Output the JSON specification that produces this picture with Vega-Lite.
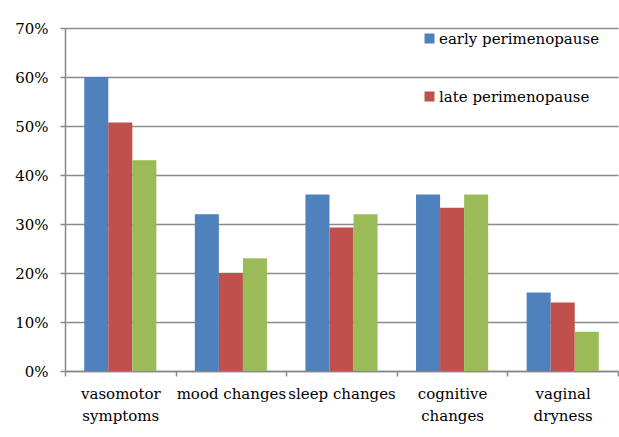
{
  "$schema": "https://vega.github.io/schema/vega-lite/v6.json",
  "autosize": {"type": "none"},
  "width": 553,
  "height": 343,
  "padding": {"left": 65, "top": 28, "right": 1, "bottom": 66},
  "background": "white",
  "data": {
    "values": [
      {"symptom": "vasomotor symptoms", "stage": "early perimenopause", "value": 0.60},
      {"symptom": "vasomotor symptoms", "stage": "late perimenopause", "value": 0.507},
      {"symptom": "vasomotor symptoms", "stage": "postmenopause", "value": 0.43},
      {"symptom": "mood changes", "stage": "early perimenopause", "value": 0.32},
      {"symptom": "mood changes", "stage": "late perimenopause", "value": 0.20},
      {"symptom": "mood changes", "stage": "postmenopause", "value": 0.23},
      {"symptom": "sleep changes", "stage": "early perimenopause", "value": 0.36},
      {"symptom": "sleep changes", "stage": "late perimenopause", "value": 0.293},
      {"symptom": "sleep changes", "stage": "postmenopause", "value": 0.32},
      {"symptom": "cognitive changes", "stage": "early perimenopause", "value": 0.36},
      {"symptom": "cognitive changes", "stage": "late perimenopause", "value": 0.333},
      {"symptom": "cognitive changes", "stage": "postmenopause", "value": 0.36},
      {"symptom": "vaginal dryness", "stage": "early perimenopause", "value": 0.16},
      {"symptom": "vaginal dryness", "stage": "late perimenopause", "value": 0.14},
      {"symptom": "vaginal dryness", "stage": "postmenopause", "value": 0.08}
    ]
  },
  "mark": {"type": "bar"},
  "encoding": {
    "x": {
      "field": "symptom",
      "type": "nominal",
      "sort": ["vasomotor symptoms", "mood changes", "sleep changes", "cognitive changes", "vaginal dryness"],
      "scale": {"paddingInner": 0, "paddingOuter": 0},
      "axis": {
        "title": null,
        "labelAngle": 0,
        "tickBand": "extent",
        "labelExpr": "datum.value == 'vasomotor symptoms' ? ['vasomotor', 'symptoms'] : datum.value == 'cognitive changes' ? ['cognitive', 'changes'] : datum.value == 'vaginal dryness' ? ['vaginal', 'dryness'] : datum.value",
        "labelFont": "DejaVu Serif",
        "labelFontSize": 15,
        "labelColor": "black",
        "labelLineHeight": 22,
        "labelPadding": 10,
        "labelLimit": 200,
        "domainColor": "#888888",
        "domainWidth": 1.5,
        "tickColor": "#888888",
        "tickWidth": 1.5,
        "tickSize": 5
      }
    },
    "xOffset": {
      "field": "stage",
      "type": "nominal",
      "sort": ["early perimenopause", "late perimenopause", "postmenopause"],
      "scale": {"paddingInner": 0, "paddingOuter": 0.8}
    },
    "y": {
      "field": "value",
      "type": "quantitative",
      "scale": {"domain": [0, 0.7], "nice": false},
      "axis": {
        "title": null,
        "format": ".0%",
        "values": [0, 0.1, 0.2, 0.3, 0.4, 0.5, 0.6, 0.7],
        "labelFont": "DejaVu Serif",
        "labelFontSize": 15,
        "labelColor": "black",
        "labelPadding": 12,
        "grid": true,
        "gridColor": "#8c8c8c",
        "gridWidth": 1.5,
        "domainColor": "#888888",
        "domainWidth": 1.5,
        "tickColor": "#888888",
        "tickWidth": 1.5,
        "tickSize": 5
      }
    },
    "color": {
      "field": "stage",
      "type": "nominal",
      "scale": {
        "domain": ["early perimenopause", "late perimenopause", "postmenopause"],
        "range": ["#4F81BD", "#C0504D", "#9BBB59"]
      },
      "legend": {
        "title": null,
        "values": ["early perimenopause", "late perimenopause"],
        "orient": "none",
        "legendX": 357,
        "legendY": 3,
        "symbolType": "square",
        "symbolSize": 100,
        "symbolStrokeWidth": 0,
        "symbolOpacity": 1,
        "labelFont": "DejaVu Serif",
        "labelFontSize": 15,
        "labelColor": "black",
        "labelOffset": 2,
        "rowPadding": 42,
        "labelLimit": 250
      }
    }
  },
  "config": {
    "font": "DejaVu Serif",
    "view": {"stroke": null},
    "bar": {"stroke": null}
  }
}
